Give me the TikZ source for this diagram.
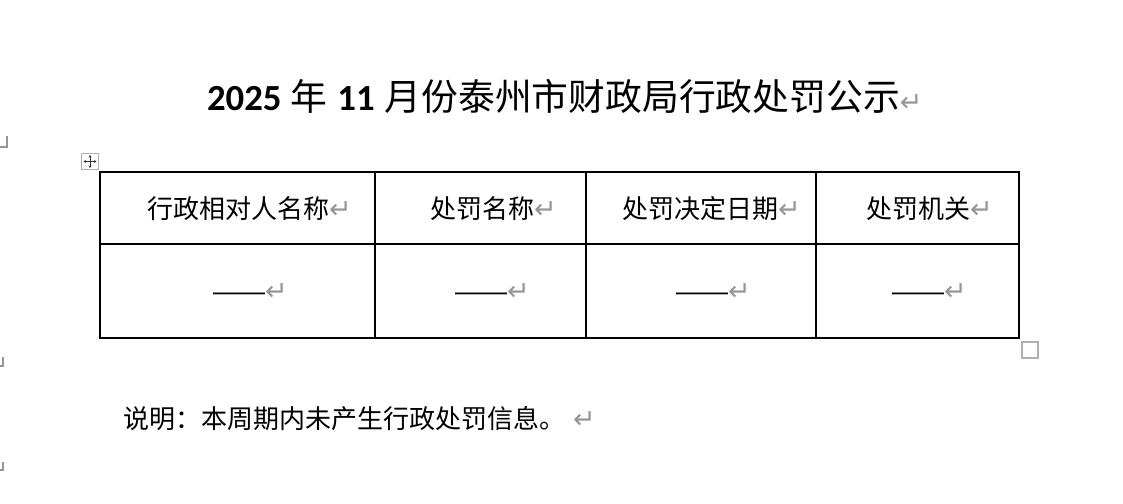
\documentclass[tikz,border=0pt]{standalone}
\usepackage{fontspec}
\setmainfont{Noto Sans CJK SC}
\newfontfamily\cjkfont{Noto Sans CJK SC}
\newfontfamily\digitfont{Carlito}
\newfontfamily\symfont{DejaVu Sans}
\newfontfamily\dashfont{Liberation Sans}
\usetikzlibrary{arrows.meta}
\definecolor{markgray}{RGB}{150,150,150}
\definecolor{handlegray}{RGB}{175,175,175}
\tikzset{
  txt/.style={inner sep=0pt, outer sep=0pt, anchor=base west, font=\cjkfont\fontsize{26}{26}\selectfont},
  dashtxt/.style={inner sep=0pt, outer sep=0pt, anchor=base west, font=\dashfont\fontsize{26}{26}\selectfont},
  titletxt/.style={inner sep=0pt, outer sep=0pt, anchor=base west, font=\cjkfont\fontsize{36.8}{36.8}\selectfont},
  ret/.style={inner sep=0pt, outer sep=0pt, anchor=base west, text=markgray, font=\symfont\fontsize{27}{27}\selectfont},
  grid/.style={line width=1.1pt, black},
  corner/.style={line width=1.2pt, markgray},
}
\begin{document}
\begin{tikzpicture}[x=1pt,y=-1pt]
\useasboundingbox[fill=white] (0,0) rectangle (1123,503);
% title
\node[titletxt] (title) at (207,110) {{\digitfont\bfseries 2025}\hspace{9pt}年\hspace{10pt}{\digitfont\bfseries 11}\hspace{10pt}月份泰州市财政局行政处罚公示};
\node[ret] (titleret) at ([yshift=-1pt]title.base east) {↵};
% corner marks
\draw[corner] (7,136) -- (7,147) -- (0,147);
\draw[corner] (3,357) -- (3,366) -- (0,366);
\draw[corner] (3,462) -- (3,470) -- (0,470);
% table move handle
\draw[handlegray, line width=1.2pt] (81.5,153.5) rectangle (98.5,169.5);
\coordinate (hc) at (90,161.5);
\draw[-{Stealth[length=2.5pt,width=3pt]}, line width=0.7pt, black!80] (hc) -- (90,155);
\draw[-{Stealth[length=2.5pt,width=3pt]}, line width=0.7pt, black!80] (hc) -- (90,168);
\draw[-{Stealth[length=2.5pt,width=3pt]}, line width=0.7pt, black!80] (hc) -- (83.5,161.5);
\draw[-{Stealth[length=2.5pt,width=3pt]}, line width=0.7pt, black!80] (hc) -- (96.5,161.5);
% resize handle
\draw[handlegray, line width=1.6pt] (1022,342) rectangle (1038,358);
% table
\draw[grid] (100,172) rectangle (1019,338);
\draw[grid] (100,244) -- (1019,244);
\draw[grid] (375,172) -- (375,338);
\draw[grid] (586,172) -- (586,338);
\draw[grid] (816,172) -- (816,338);
% header row
\node[txt] (h1) at (147,218) {行政相对人名称};
\node[ret] at (h1.base east) {↵};
\node[txt] (h2) at (430,218) {处罚名称};
\node[ret] at (h2.base east) {↵};
\node[txt] (h3) at (622,218) {处罚决定日期};
\node[ret] at (h3.base east) {↵};
\node[txt] (h4) at (866,218) {处罚机关};
\node[ret] at (h4.base east) {↵};
% data row
\node[dashtxt] (d1) at (213,300) {——};
\node[ret] at (d1.base east) {↵};
\node[dashtxt] (d2) at (455,300) {——};
\node[ret] at (d2.base east) {↵};
\node[dashtxt] (d3) at (676,300) {——};
\node[ret] at (d3.base east) {↵};
\node[dashtxt] (d4) at (892,300) {——};
\node[ret] at (d4.base east) {↵};
% note
\node[txt] (note) at (123,428) {说明：本周期内未产生行政处罚信息。};
\node[ret] at ([xshift=8pt]note.base east) {↵};
\end{tikzpicture}
\end{document}
